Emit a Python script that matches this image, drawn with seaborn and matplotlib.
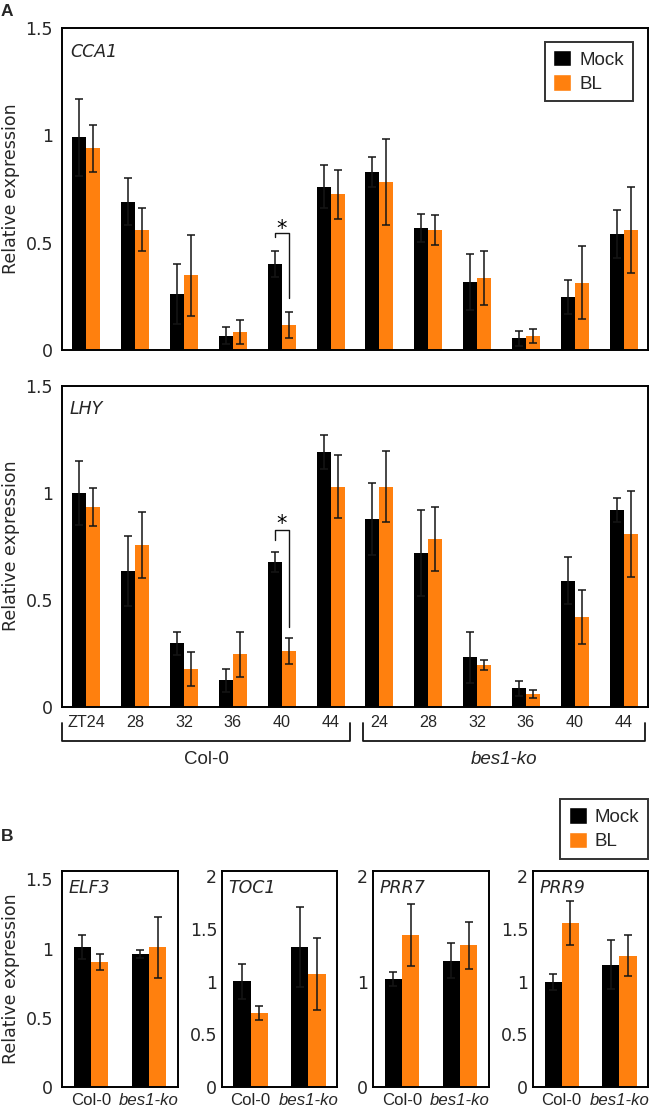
import numpy as np
import pandas as pd
import matplotlib
matplotlib.use("Agg")
import matplotlib.pyplot as plt
from matplotlib.patches import Patch
from matplotlib import font_manager
import seaborn as sns

# ---------------- data ----------------
treatments = ["Mock", "BL"]
genotypes = ["Col-0", "bes1-ko"]
timepoints = ["24", "28", "32", "36", "40", "44"]
time_labels = ["ZT24", "28", "32", "36", "40", "44", "24", "28", "32", "36", "40", "44"]

cca1_mock = [0.99, 0.69, 0.26, 0.067, 0.40, 0.76, 0.83, 0.567, 0.315, 0.054, 0.247, 0.54]
cca1_mock_err = [0.18, 0.11, 0.14, 0.04, 0.06, 0.10, 0.07, 0.066, 0.13, 0.036, 0.08, 0.11]
cca1_bl = [0.94, 0.56, 0.348, 0.085, 0.116, 0.725, 0.781, 0.559, 0.334, 0.065, 0.313, 0.557]
cca1_bl_err = [0.11, 0.10, 0.19, 0.055, 0.062, 0.115, 0.20, 0.068, 0.125, 0.032, 0.17, 0.20]

lhy_mock = [1.0, 0.633, 0.295, 0.122, 0.676, 1.19, 0.877, 0.719, 0.23, 0.085, 0.588, 0.919]
lhy_mock_err = [0.15, 0.165, 0.053, 0.053, 0.048, 0.078, 0.17, 0.20, 0.12, 0.036, 0.11, 0.057]
lhy_bl = [0.934, 0.755, 0.174, 0.245, 0.259, 1.028, 1.028, 0.783, 0.194, 0.058, 0.417, 0.806]
lhy_bl_err = [0.09, 0.156, 0.08, 0.105, 0.06, 0.147, 0.166, 0.15, 0.022, 0.02, 0.126, 0.20]

b_genes = ["ELF3", "TOC1", "PRR7", "PRR9"]
elf3_mock = [1.01, 0.961]
elf3_mock_err = [0.087, 0.027]
elf3_bl = [0.903, 1.01]
elf3_bl_err = [0.055, 0.22]
toc1_mock = [1.003, 1.328]
toc1_mock_err = [0.166, 0.376]
toc1_bl = [0.70, 1.073]
toc1_bl_err = [0.067, 0.34]
prr7_mock = [1.025, 1.20]
prr7_mock_err = [0.064, 0.17]
prr7_bl = [1.443, 1.344]
prr7_bl_err = [0.29, 0.225]
prr9_mock = [0.997, 1.162]
prr9_mock_err = [0.076, 0.233]
prr9_bl = [1.554, 1.248]
prr9_bl_err = [0.207, 0.19]

# ---------------- style ----------------
sns.set_style("white")
plt.rcParams["font.family"] = ["DejaVu Sans"]
BLACK = "#000000"
ORANGE = "#FF800E"
ARIAL = ["Liberation Sans", "DejaVu Sans"]
installed = {f.name for f in font_manager.fontManager.ttflist}
if "Liberation Sans Narrow" in installed:
    NARROW = ["Liberation Sans Narrow", "Liberation Sans"]
    NARROW_SCALE = 1.0
else:
    NARROW = ARIAL
    NARROW_SCALE = 0.86

W, H = 650, 1110
fig = plt.figure(figsize=(W / 100, H / 100), dpi=100)


def px_axes(l, t, r, b):
    return fig.add_axes([l / W, 1 - b / H, (r - l) / W, (b - t) / H])


def draw_bars(ax, cats, mock, mock_err, bl, bl_err, width):
    df = pd.DataFrame({
        "cat": list(cats) * 2,
        "treatment": ["Mock"] * len(cats) + ["BL"] * len(cats),
        "value": list(mock) + list(bl),
    })
    sns.barplot(data=df, x="cat", y="value", hue="treatment", order=cats,
                hue_order=treatments, palette=[BLACK, ORANGE], errorbar=None,
                width=width, dodge=True, linewidth=0, saturation=1,
                legend=False, ax=ax)
    for cont, errs in zip(ax.containers, [mock_err, bl_err]):
        xs = [b.get_x() + b.get_width() / 2 for b in cont]
        hs = [b.get_height() for b in cont]
        ax.errorbar(xs, hs, yerr=errs, fmt="none", ecolor="#151515",
                    elinewidth=1.1, capsize=3, capthick=1.1, zorder=3)
    ax.set_xlabel("")
    ax.set_ylabel("")
    ax.set_xlim(-0.5, len(cats) - 0.5)
    for s in ax.spines.values():
        s.set_visible(True)
        s.set_color("black")
        s.set_linewidth(1.4)
    ax.tick_params(length=0)
    return ax


def bracket_star(ax, xl, xr, ytop, yl, yr, ystar):
    ax.plot([xl, xl, xr, xr], [yl, ytop, ytop, yr], color="#151515", lw=1.0,
            zorder=4)
    ax.text((xl + xr) / 2, ystar, "*", ha="center", va="baseline",
            fontsize=15, color="black")


cats_a = [g + " " + t for g in genotypes for t in timepoints]

# ---------------- panel A: CCA1 ----------------
ax1 = px_axes(62, 28, 648, 350)
draw_bars(ax1, cats_a, cca1_mock, cca1_mock_err, cca1_bl, cca1_bl_err, 0.57)
ax1.set_ylim(0, 1.5)
ax1.set_yticks([0, 0.5, 1, 1.5])
ax1.set_yticklabels(["0", "0.5", "1", "1.5"], fontsize=12.5)
ax1.tick_params(axis="y", pad=6.5)
ax1.set_xticks([])
ax1.text(0.0137, 0.925, "CCA1", transform=ax1.transAxes, style="italic",
         fontsize=12.5, ha="left", va="center")
ax1.set_ylabel("Relative expression", fontsize=12.5)
ax1.yaxis.set_label_coords(-0.0717, 0.5)
c0 = ax1.containers[0][4]
c1 = ax1.containers[1][4]
bracket_star(ax1, c0.get_x() + c0.get_width() / 2, c1.get_x() + c1.get_width() / 2,
             0.545, 0.526, 0.242, 0.538)
handles = [Patch(facecolor=BLACK, label="Mock"), Patch(facecolor=ORANGE, label="BL")]
leg = ax1.legend(handles=handles, loc="upper right", bbox_to_anchor=(0.974, 0.957),
                 borderaxespad=0, frameon=True, fancybox=False, edgecolor="black",
                 handlelength=0.95, handleheight=0.95, handletextpad=0.45,
                 labelspacing=0.3, borderpad=0.45,
                 prop={"family": ARIAL, "size": 13.5})
leg.get_frame().set_linewidth(1.4)

# ---------------- panel A: LHY ----------------
ax2 = px_axes(62, 385.7, 648, 706.5)
draw_bars(ax2, cats_a, lhy_mock, lhy_mock_err, lhy_bl, lhy_bl_err, 0.57)
ax2.set_ylim(0, 1.5)
ax2.set_yticks([0, 0.5, 1, 1.5])
ax2.set_yticklabels(["0", "0.5", "1", "1.5"], fontsize=12.5)
ax2.tick_params(axis="y", pad=6.5)
ax2.set_xticks(range(len(cats_a)))
ax2.set_xticklabels(time_labels, family=NARROW, fontsize=13.5 * NARROW_SCALE)
ax2.tick_params(axis="x", pad=6)
ax2.text(0.0137, 0.926, "LHY", transform=ax2.transAxes, style="italic",
         fontsize=12.5, ha="left", va="center")
ax2.set_ylabel("Relative expression", fontsize=12.5)
ax2.yaxis.set_label_coords(-0.0717, 0.5)
c0 = ax2.containers[0][4]
c1 = ax2.containers[1][4]
bracket_star(ax2, c0.get_x() + c0.get_width() / 2, c1.get_x() + c1.get_width() / 2,
             0.825, 0.778, 0.373, 0.823)

# genotype brackets below the x axis
tr = ax2.get_xaxis_transform()
ah = 706.5 - 385.7
y_up = -(723 - 706.5) / ah
y_lo = -(741 - 706.5) / ah
y_txt = -(759 - 706.5) / ah
for (xl, xr), name, st in [((-0.5, 5.40), "Col-0", "normal"),
                           ((5.66, 11.44), "bes1-ko", "italic")]:
    ax2.plot([xl, xl, xr, xr], [y_up, y_lo, y_lo, y_up], transform=tr,
             color="#151515", lw=1.3, clip_on=False)
    ax2.text((xl + xr) / 2, y_txt, name, transform=tr, ha="center", va="center",
             family=ARIAL, style=st, fontsize=13.5)

# ---------------- panel B ----------------
b_data = [
    (elf3_mock, elf3_mock_err, elf3_bl, elf3_bl_err),
    (toc1_mock, toc1_mock_err, toc1_bl, toc1_bl_err),
    (prr7_mock, prr7_mock_err, prr7_bl, prr7_bl_err),
    (prr9_mock, prr9_mock_err, prr9_bl, prr9_bl_err),
]
b_lefts = [62, 222, 373, 533]
b_rights = [178, 337, 489, 648]
b_ylims = [1.56, 2.05, 2.05, 2.05]
b_ticks = [[0, 0.5, 1, 1.5], [0, 0.5, 1, 1.5, 2], [0, 1, 2], [0, 0.5, 1, 1.5, 2]]
b_pads = [6.5, 3.5, 3.5, 3.5]
b_title_x = [0.06, 0.055, 0.052, 0.06]
for i, gene in enumerate(b_genes):
    l, r = b_lefts[i], b_rights[i]
    ax = px_axes(l, 871, r, 1087)
    m, me, bl, ble = b_data[i]
    draw_bars(ax, genotypes, m, me, bl, ble, 0.6)
    ax.set_ylim(0, b_ylims[i])
    ax.set_yticks(b_ticks[i])
    ax.set_yticklabels([f"{t:g}" for t in b_ticks[i]], fontsize=12.5)
    ax.tick_params(axis="y", pad=b_pads[i])
    ax.set_xticks([0, 1])
    ax.set_xticklabels(genotypes, family=NARROW, fontsize=14 * NARROW_SCALE)
    ax.get_xticklabels()[1].set_style("italic")
    ax.tick_params(axis="x", pad=4.5)
    ax.text(b_title_x[i], 0.921, gene, transform=ax.transAxes, style="italic",
            fontsize=12.5, ha="left", va="center")
    if i == 0:
        ax.set_ylabel("Relative expression", fontsize=12.5)
        ax.yaxis.set_label_coords(-(62 - 20) / (r - l), 0.5)

legb = fig.legend(handles=handles, loc="upper right",
                  bbox_to_anchor=(648 / W, 1 - 799 / H), bbox_transform=fig.transFigure,
                  borderaxespad=0, frameon=True, fancybox=False, edgecolor="black",
                  handlelength=0.95, handleheight=0.95, handletextpad=0.45,
                  labelspacing=0.3, borderpad=0.45,
                  prop={"family": ARIAL, "size": 13.5})
legb.get_frame().set_linewidth(1.4)

# panel letters
fig.text(1 / W, 1 - 4 / H, "A", ha="left", va="top", fontsize=12.5,
         fontweight="bold", family=ARIAL)
fig.text(1 / W, 1 - 829 / H, "B", ha="left", va="top", fontsize=12.5,
         fontweight="bold", family=ARIAL)

fig.savefig("out.png", dpi=100)
